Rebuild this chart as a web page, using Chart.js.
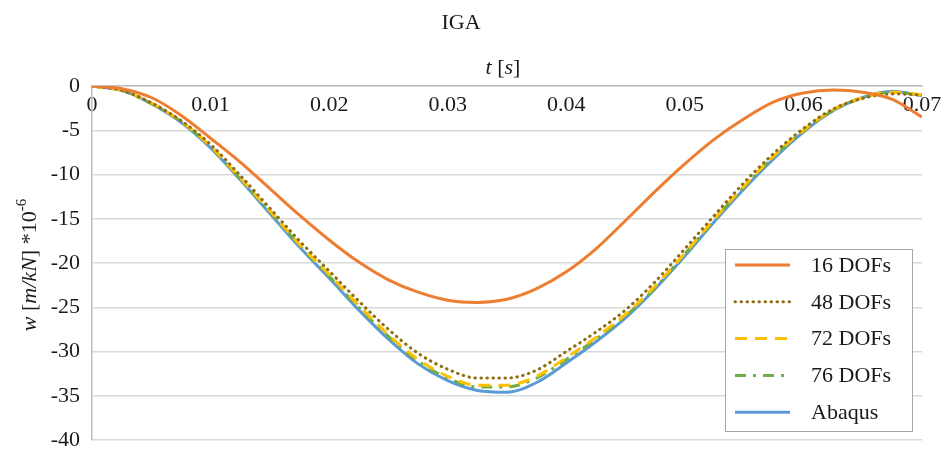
<!DOCTYPE html>
<html>
<head>
<meta charset="utf-8">
<script src="https://cdn.jsdelivr.net/npm/chart.js@4/dist/chart.umd.min.js"></script>
<style>
  html, body { margin: 0; padding: 0; background: #fff; }
  #wrap { width: 945px; height: 450px; }
</style>
</head>
<body>
<div id="wrap"><canvas id="igaChart"></canvas></div>
<script>
// time [s]
const times = [0, 0.0025, 0.005, 0.0075, 0.01, 0.0125, 0.015, 0.0175, 0.02, 0.0225,
    0.025, 0.0275, 0.03, 0.0325, 0.035, 0.0375, 0.04, 0.0425, 0.045, 0.0475,
    0.05, 0.0525, 0.055, 0.0575, 0.06, 0.0625, 0.065, 0.0675, 0.07];

// w [m/kN] *10^-6
const dofs16 = [0, -0.3, -1.3, -3.3, -5.9, -8.6, -11.6, -14.6, -17.4, -19.9,
    -21.9, -23.3, -24.2, -24.45, -24.1, -22.9, -21.0, -18.4, -15.2, -11.9,
    -8.8, -6.0, -3.7, -1.8, -0.8, -0.45, -0.7, -1.5, -3.5];
const dofs48 = [0, -0.5, -1.9, -3.9, -6.6, -10.1, -13.8, -17.5, -20.9, -24.3,
    -27.5, -30.2, -32.0, -33.0, -33.0, -32.1, -30.0, -27.8, -25.3, -22.1,
    -18.4, -14.6, -10.9, -7.6, -4.8, -2.6, -1.4, -0.9, -1.0];
const dofs72 = [0, -0.5, -1.9, -4.0, -6.8, -10.4, -14.1, -17.9, -21.3, -24.8,
    -28.1, -30.9, -32.8, -33.8, -33.8, -32.8, -30.7, -28.4, -25.8, -22.6,
    -18.9, -15.0, -11.3, -7.9, -5.0, -2.7, -1.3, -0.7, -1.0];
const dofs76 = [0, -0.5, -2.0, -4.0, -6.9, -10.5, -14.2, -18.0, -21.5, -25.0,
    -28.3, -31.1, -33.0, -34.0, -34.0, -33.0, -30.9, -28.6, -26.0, -22.8,
    -19.0, -15.1, -11.4, -8.0, -5.1, -2.8, -1.3, -0.7, -1.0];
const abaqus = [0, -0.5, -2.0, -4.1, -7.0, -10.6, -14.4, -18.2, -21.7, -25.3,
    -28.6, -31.4, -33.3, -34.4, -34.6, -33.5, -31.3, -28.9, -26.2, -22.9,
    -19.2, -15.3, -11.6, -8.2, -5.2, -2.8, -1.3, -0.6, -1.1];

const seriesNames = ['16 DOFs', '48 DOFs', '72 DOFs', '76 DOFs', 'Abaqus'];
const xTicks = [0, 0.01, 0.02, 0.03, 0.04, 0.05, 0.06, 0.07];
const yTicks = [0, -5, -10, -15, -20, -25, -30, -35, -40];

const serif = "'Liberation Serif', 'Times New Roman', serif";
const textColor = '#1a1a1a';

function points(values) {
    return times.map((t, i) => ({ x: t, y: values[i] }));
}

// axis titles with italic parts
function drawRuns(ctx, runs, cx, cy) {
    let total = 0;
    runs.forEach(r => {
        ctx.font = r.font;
        total += ctx.measureText(r.text).width;
    });
    let x = cx - total / 2;
    runs.forEach(r => {
        ctx.font = r.font;
        ctx.fillText(r.text, x, cy + (r.dy || 0));
        x += ctx.measureText(r.text).width;
    });
}

const axisTitles = {
    id: 'axisTitles',
    afterDraw(chart) {
        const ctx = chart.ctx;
        const area = chart.chartArea;
        const up = '22px ' + serif;
        const it = 'italic 22px ' + serif;
        ctx.save();
        ctx.fillStyle = textColor;
        ctx.textBaseline = 'middle';
        ctx.textAlign = 'left';
        drawRuns(ctx, [
            { text: 't', font: it },
            { text: ' [', font: up },
            { text: 's', font: it },
            { text: ']', font: up }
        ], (area.left + area.right) / 2 - 4, area.top - 18);

        ctx.translate(area.left - 62, (area.top + area.bottom) / 2 + 2);
        ctx.rotate(-Math.PI / 2);
        drawRuns(ctx, [
            { text: 'w', font: it },
            { text: ' [', font: up },
            { text: 'm/kN', font: it },
            { text: '] *10', font: up },
            { text: '-6', font: '15px ' + serif, dy: -8 }
        ], 0, 0);
        ctx.restore();
    }
};

// legend box inside the plot area
const boxLegend = {
    id: 'boxLegend',
    afterDraw(chart) {
        const ctx = chart.ctx;
        const area = chart.chartArea;
        const w = 187, h = 182;
        const left = area.right - 10 - w;
        const top = area.bottom - 9 - h;
        ctx.save();
        ctx.fillStyle = '#ffffff';
        ctx.fillRect(left, top, w, h);
        ctx.strokeStyle = '#a6a6a6';
        ctx.lineWidth = 1;
        ctx.strokeRect(left + 0.5, top + 0.5, w, h);
        ctx.font = '22px ' + serif;
        ctx.textBaseline = 'middle';
        ctx.textAlign = 'left';
        chart.data.datasets.forEach((ds, i) => {
            const y = top + 16 + i * 36.8;
            ctx.beginPath();
            ctx.strokeStyle = ds.borderColor;
            ctx.lineWidth = ds.borderWidth;
            ctx.lineCap = ds.borderCapStyle || 'butt';
            ctx.setLineDash(ds.borderDash || []);
            ctx.moveTo(left + 10, y);
            ctx.lineTo(left + 65, y);
            ctx.stroke();
            ctx.setLineDash([]);
            ctx.fillStyle = textColor;
            ctx.fillText(ds.label, left + 86, y + 1);
        });
        ctx.restore();
    }
};

document.addEventListener("DOMContentLoaded", function () {
    const igaCtx = document.getElementById("igaChart").getContext("2d");
    new Chart(igaCtx, {
        type: 'line',
        data: {
            datasets: [
                {
                    label: seriesNames[0],
                    data: points(dofs16),
                    borderColor: '#ed7d31',
                    borderWidth: 3
                },
                {
                    label: seriesNames[1],
                    data: points(dofs48),
                    borderColor: '#8f6d10',
                    borderWidth: 3,
                    borderDash: [0.5, 5.5],
                    borderCapStyle: 'round'
                },
                {
                    label: seriesNames[2],
                    data: points(dofs72),
                    borderColor: '#ffc000',
                    borderWidth: 3,
                    borderDash: [12, 8]
                },
                {
                    label: seriesNames[3],
                    data: points(dofs76),
                    borderColor: '#70ad47',
                    borderWidth: 3,
                    borderDash: [11, 7, 3, 7]
                },
                {
                    label: seriesNames[4],
                    data: points(abaqus),
                    borderColor: '#5b9bd5',
                    borderWidth: 3
                }
            ]
        },
        options: {
            responsive: true,
            maintainAspectRatio: false,
            animation: false,
            layout: { padding: { top: 0, right: 23, bottom: 10, left: 0 } },
            elements: {
                point: { radius: 0 },
                line: { cubicInterpolationMode: 'monotone', fill: false }
            },
            plugins: {
                legend: { display: false },
                tooltip: { enabled: false },
                title: {
                    display: true,
                    text: 'IGA',
                    color: textColor,
                    font: { family: serif, size: 22, weight: 'normal' },
                    padding: { top: 10, bottom: 0 }
                }
            },
            scales: {
                x: {
                    type: 'linear',
                    position: 'top',
                    min: 0,
                    max: 0.07,
                    afterBuildTicks: scale => { scale.ticks = xTicks.map(v => ({ value: v })); },
                    afterFit: scale => {
                        scale.height = 49.6;
                        scale.paddingLeft = 0;
                        scale.paddingRight = 0;
                    },
                    grid: { display: false, drawTicks: false },
                    border: { display: true, color: '#bfbfbf', width: 1.5 },
                    ticks: {
                        mirror: true,
                        padding: 6,
                        maxRotation: 0,
                        autoSkip: false,
                        color: textColor,
                        font: { family: serif, size: 22 },
                        callback: v => String(v)
                    }
                },
                y: {
                    min: -40,
                    max: 0,
                    afterBuildTicks: scale => { scale.ticks = yTicks.map(v => ({ value: v })); },
                    afterFit: scale => {
                        scale.width = 92;
                        scale.paddingTop = 0;
                        scale.paddingBottom = 0;
                    },
                    grid: { color: '#d9d9d9', lineWidth: 1.5, drawTicks: false },
                    border: { display: true, color: '#bfbfbf', width: 1.5 },
                    ticks: {
                        padding: 12,
                        color: textColor,
                        font: { family: serif, size: 22 },
                        callback: v => String(v)
                    }
                }
            }
        },
        plugins: [axisTitles, boxLegend]
    });
});
</script>
</body>
</html>
